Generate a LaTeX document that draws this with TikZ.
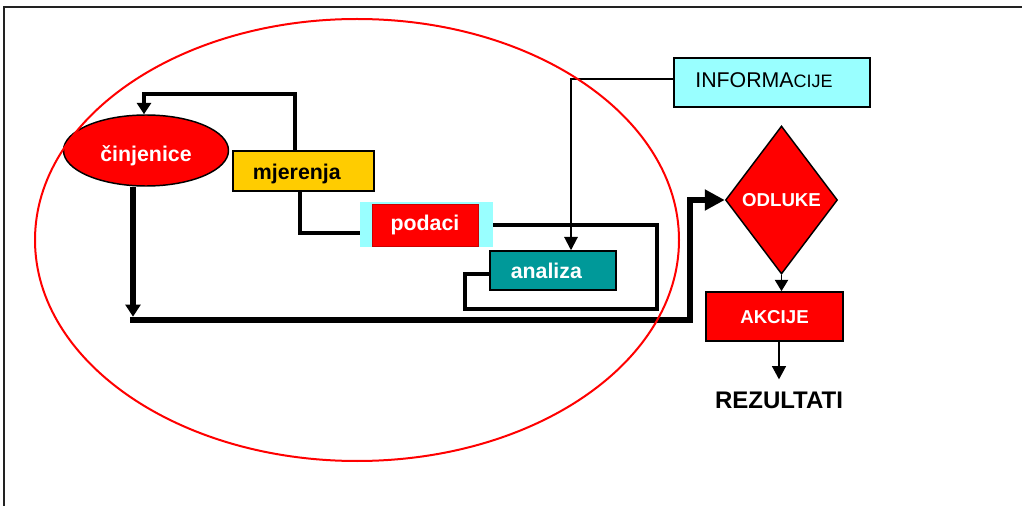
\documentclass[tikz,border=0pt]{standalone}
\usepackage{fontspec}
\setmainfont{Liberation Sans}
\usetikzlibrary{shapes.geometric,arrows.meta,calc}
\definecolor{gold}{HTML}{FFCC00}
\definecolor{tealc}{HTML}{009999}
\definecolor{lcyan}{HTML}{99FFFF}
\definecolor{framec}{HTML}{222222}
\begin{document}
\begin{tikzpicture}[x=0.75pt,y=-0.75pt,
  box/.style={draw=black, line width=1.1pt, inner sep=0pt},
  wtxt/.style={text=white, font=\bfseries\fontsize{16}{18}\selectfont},
  btxt/.style={text=black, font=\bfseries\fontsize{16}{18}\selectfont},
  bus/.style={line width=4.6pt, line join=miter},
  loopc/.style={line width=3pt, line join=miter},
  thinc/.style={line width=1.5pt},
  thinner/.style={line width=1.1pt}
]
\useasboundingbox (0,0) rectangle (1022,506);
% frame
\draw[framec, line width=1.2pt] (4,506) -- (4,7) -- (1022,7);

% nodes
\node[box, shape=ellipse, fill=red, minimum width=123.75pt, minimum height=53.25pt, wtxt, text height=15.8pt, text depth=0pt] (cin) at (146,150.5) {činjenice};
\node[box, fill=gold, minimum width=105.75pt, minimum height=30pt, btxt, text height=13.5pt, text depth=0pt] (mer) at (303.5,171) {\hspace*{-10pt}mjerenja};
\node[fill=lcyan, minimum width=99.75pt, minimum height=33.75pt, inner sep=0pt] (podbg) at (426.5,224.5) {};
\node[fill=red, draw=red!80!black, line width=0.4pt, minimum width=79.5pt, minimum height=31.5pt, inner sep=0pt, wtxt] (pod) at (425,225) {podaci};
\node[box, fill=tealc, minimum width=94.5pt, minimum height=29.25pt, wtxt, text height=12.6pt, text depth=0pt] (ana) at (553,270.5) {\hspace*{-10pt}analiza};
\node[box, fill=lcyan, minimum width=147pt, minimum height=36.75pt, font=\fontsize{16}{18}\selectfont, text height=11.5pt, text depth=4.5pt] (inf) at (772,82.5) {\hspace*{-12pt}INFORMA{\fontsize{13.5}{15}\selectfont CIJE}};
\node[box, shape=diamond, fill=red, minimum width=84pt, minimum height=111pt, text=white, font=\bfseries\fontsize{14}{16}\selectfont] (odl) at (781.5,200) {ODLUKE};
\node[box, line width=1.3pt, fill=red, minimum width=102.75pt, minimum height=36.75pt, text=white, font=\bfseries\fontsize{14}{16}\selectfont, text height=11.2pt, text depth=0pt] (akc) at (774.5,316.5) {AKCIJE};
\node[inner sep=0pt, font=\bfseries\fontsize{18}{20}\selectfont] (rez) at (779,400) {REZULTATI};

\coordinate (busstart) at (130,320);
\coordinate (busturn) at (690,320);

% connectors
\draw[loopc, -{Triangle[width=10.5pt,length=8.5pt]}]
  ($(mer.north)+(-8.5,0)$) -- ($(mer.north)+(-8.5,-56)$) -| ($(cin.north)+(-2,0)$);
\draw[loopc]
  ($(mer.south)+(-3.5,0)$) |- ($(podbg.west)+(0,8.5)$);
\draw[loopc]
  ($(podbg.east)+(0,0.5)$) -- (657,225) -- (657,309) -- (465,309) -- (465,274) -- ($(ana.west)+(0,3.5)$);
\draw[thinc, -{Triangle[width=10pt,length=10pt]}]
  ($(inf.west)+(0,-3.5)$) -| (571,0 |- ana.north);
\draw[bus, -{Triangle[width=11pt,length=9pt]}]
  ($(cin.south)+(-13,0)$) -- ($(cin.south)+(-13,130)$);
\draw[bus, -{Triangle[width=15pt,length=15pt]}]
  (busstart) -- (busturn) |- (odl.west);
\draw[thinner, -{Triangle[width=10pt,length=8.5pt]}]
  (odl.south) -- (odl.south |- akc.north);
\draw[thinner, -{Triangle[width=10.5pt,length=10pt]}]
  ($(akc.south)+(4.5,0)$) -- ($(rez.north)+(0,-12)$);

% big red ellipse
\draw[red, line width=1.5pt] (357,240) ellipse [x radius=241.5pt, y radius=165.75pt];
\end{tikzpicture}
\end{document}
